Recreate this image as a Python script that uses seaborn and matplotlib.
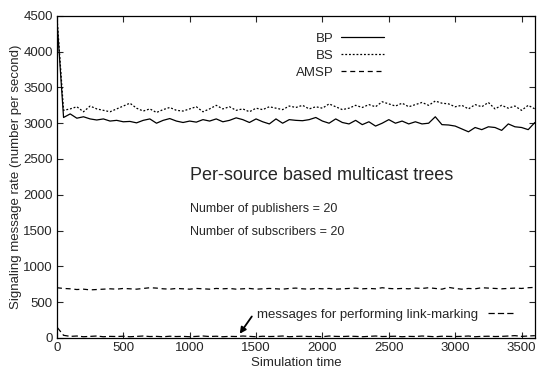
"""Signaling message rate over simulation time for per-source multicast trees."""

import matplotlib
matplotlib.use("Agg")
import matplotlib.pyplot as plt
import pandas as pd
import seaborn as sns

# Simulation time samples
TIME = list(range(0, 3601, 50))

BP = [4450, 3080, 3130, 3070, 3090, 3060, 3045, 3060, 3030, 3040,
      3020, 3025, 3005, 3040, 3060, 3000, 3040, 3065, 3030, 3010,
      3030, 3015, 3050, 3030, 3060, 3020, 3040, 3075, 3050, 3010,
      3060, 3020, 2990, 3060, 3000, 3050, 3040, 3035, 3050, 3080,
      3030, 3000, 3060, 3010, 2990, 3040, 2980, 3020, 2960, 3000,
      3050, 3000, 3030, 2990, 3020, 2990, 3000, 3090, 2980, 2975,
      2960, 2920, 2880, 2940, 2910, 2950, 2940, 2900, 2990, 2950,
      2940, 2910, 3010]

BS = [4500, 3180, 3200, 3230, 3160, 3240, 3200, 3180, 3160, 3200,
      3240, 3280, 3210, 3170, 3200, 3150, 3190, 3220, 3180, 3170,
      3200, 3230, 3160, 3200, 3250, 3200, 3230, 3180, 3200, 3160,
      3210, 3190, 3230, 3210, 3190, 3240, 3220, 3250, 3200, 3230,
      3210, 3270, 3230, 3190, 3210, 3250, 3220, 3260, 3230, 3300,
      3270, 3240, 3280, 3230, 3260, 3290, 3250, 3310, 3280, 3270,
      3230, 3250, 3200, 3260, 3230, 3290, 3200, 3250, 3210, 3240,
      3180, 3250, 3200]

AMSP = [700, 690, 685, 675, 680, 670, 675, 680, 685, 680,
        690, 685, 680, 690, 700, 695, 685, 680, 690, 685,
        680, 690, 685, 680, 690, 685, 690, 680, 685, 690,
        680, 685, 690, 685, 680, 690, 695, 685, 680, 690,
        685, 690, 680, 685, 690, 695, 685, 690, 685, 700,
        690, 685, 690, 685, 695, 690, 700, 690, 680, 705,
        690, 680, 690, 685, 700, 695, 690, 685, 690, 695,
        690, 700, 705]

LINK = [150, 35, 20, 25, 15, 20, 25, 15, 20, 18,
        22, 15, 20, 25, 18, 20, 15, 22, 18, 20,
        15, 20, 25, 18, 22, 15, 20, 18, 25, 20,
        15, 22, 18, 20, 25, 15, 20, 22, 18, 20,
        15, 25, 20, 18, 22, 20, 15, 20, 25, 18,
        20, 22, 15, 20, 18, 25, 20, 15, 22, 20,
        18, 20, 25, 15, 20, 22, 18, 20, 25, 30,
        20, 25, 30]

df = pd.DataFrame({"time": TIME, "BP": BP, "BS": BS, "AMSP": AMSP,
                   "link": LINK})

sns.set_style("ticks")
plt.rcParams["font.family"] = ["Liberation Sans", "DejaVu Sans"]

fig = plt.figure(figsize=(5.37, 3.70), dpi=100)
ax = fig.add_axes([0.106, 0.087, 0.890, 0.870])

sns.lineplot(data=df, x="time", y="BP", ax=ax, color="black", lw=0.9,
             label="BP", legend=False)
sns.lineplot(data=df, x="time", y="BS", ax=ax, color="black", lw=0.9,
             label="BS", legend=False)
sns.lineplot(data=df, x="time", y="AMSP", ax=ax, color="black", lw=0.9,
             label="AMSP", legend=False)
sns.lineplot(data=df, x="time", y="link", ax=ax, color="black", lw=0.9,
             label="messages for performing link-marking", legend=False)

lines = ax.get_lines()
lines[1].set_linestyle((0, (1.5, 1.5)))
lines[2].set_linestyle((0, (4, 3)))
lines[3].set_linestyle((0, (5, 2.5)))

ax.set_xlim(0, 3600)
ax.set_ylim(0, 4500)
ax.set_xticks(range(0, 3501, 500))
ax.set_yticks(range(0, 4501, 500))
ax.tick_params(direction="in", length=4, width=0.8, labelsize=9.5,
               top=True, right=True, pad=3)
for s in ax.spines.values():
    s.set_linewidth(0.9)
    s.set_color("black")

ax.set_xlabel("Simulation time", fontsize=9.5, labelpad=2)
ax.set_ylabel("Signaling message rate (number per second)", fontsize=9.5,
              labelpad=1)

leg1 = ax.legend(handles=lines[:3], labels=["BP", "BS", "AMSP"],
                 loc="upper left", bbox_to_anchor=(0.475, 0.985),
                 frameon=False, markerfirst=False, fontsize=9.5,
                 handlelength=3.2, handletextpad=0.6, labelspacing=0.35,
                 borderaxespad=0.5)
ax.add_artist(leg1)
ax.legend(handles=[lines[3]],
          labels=["messages for performing link-marking"],
          loc="lower left", bbox_to_anchor=(0.408, 0.036), frameon=False,
          markerfirst=False, fontsize=9.5, handlelength=2.1,
          handletextpad=0.7, borderaxespad=0.0)

ax.text(1000, 2270, "Per-source based multicast trees", fontsize=13,
        va="center")
ax.text(1000, 1800, "Number of publishers = 20", fontsize=9, va="center")
ax.text(1000, 1480, "Number of subscribers = 20", fontsize=9, va="center")

ax.annotate("", xy=(1365, 25), xytext=(1480, 330),
            arrowprops=dict(arrowstyle="-|>", color="black", lw=1.3,
                            mutation_scale=9))

fig.savefig("out.png", dpi=100)
